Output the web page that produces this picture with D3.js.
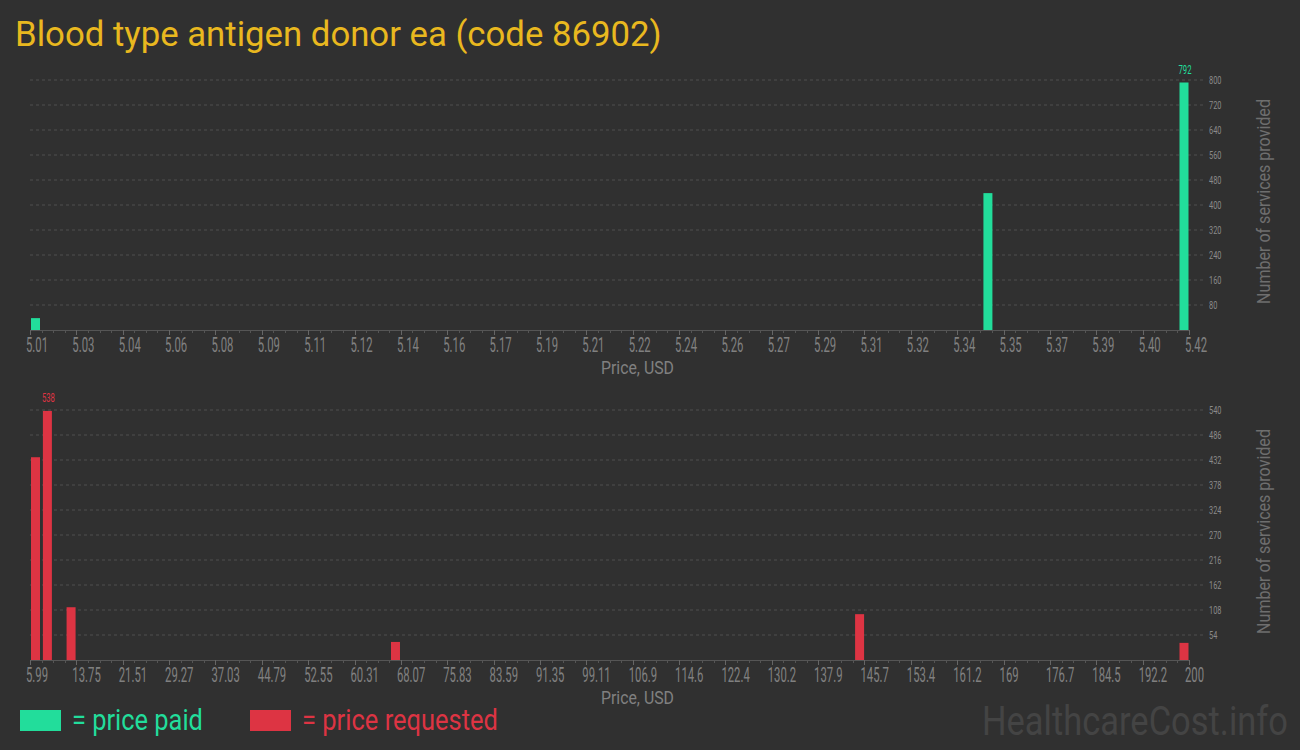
<!DOCTYPE html>
<html><head><meta charset="utf-8">
<script src="https://cdn.jsdelivr.net/npm/d3@7"></script>
<style>
html,body{margin:0;padding:0;background:#303030;}
svg{display:block;}
text{font-family:Roboto,"Noto Sans",sans-serif;}
</style></head>
<body><svg id="c" width="1300" height="750"></svg>
<script>
// ---- data ----
const paidPrices = [5.01, 5.35, 5.42];
const paidCounts = [38, 438, 792];
const reqPrices = [5.99, 8.0, 12.0, 66.8, 145.2, 200];
const reqCounts = [438, 538, 114, 39, 99, 37];
const paidTickLabels = ["5.01","5.03","5.04","5.06","5.08","5.09","5.11","5.12","5.14","5.16","5.17","5.19","5.21","5.22","5.24","5.26","5.27","5.29","5.31","5.32","5.34","5.35","5.37","5.39","5.40","5.42"];
const reqTickLabels = ["5.99","13.75","21.51","29.27","37.03","44.79","52.55","60.31","68.07","75.83","83.59","91.35","99.11","106.9","114.6","122.4","130.2","137.9","145.7","153.4","161.2","169","176.7","184.5","192.2","200"];
const paidYTicks = [80,160,240,320,400,480,560,640,720,800];
const reqYTicks = [54,108,162,216,270,324,378,432,486,540];

const BG = "#303030", GREEN = "#22dd9b", RED = "#dd3443", GOLD = "#e9b81f";
const svg = d3.select("#c");
svg.append("rect").attr("width",1300).attr("height",750).attr("fill",BG);

// place text at (x,y) and squeeze horizontally to a target width
function fitText(str, x, y, size, color, width, rotate){
  const t = svg.append("text").text(str).attr("font-size",size).attr("fill",color);
  const w = t.node().getComputedTextLength();
  const sx = width / w;
  if (rotate) {
    t.attr("text-anchor","middle").attr("transform",`translate(${x},${y}) rotate(-90) scale(${sx},1)`);
  } else {
    t.attr("transform",`translate(${x},${y}) scale(${sx},1)`);
  }
  return t;
}

fitText("Blood type antigen donor ea (code 86902)", 15, 46, 36, GOLD, 647);

function panel(o){
  const g = svg.append("g");
  const xAxisScale = d3.scalePoint().domain(o.tickLabels).range([30,1189]);
  const xBar = d3.scaleLinear().domain(o.domain).range([31,1179.5]);
  const y = d3.scaleLinear().domain([0,o.yMax]).range([o.base,o.base-250]);
  // grid
  g.selectAll(".grid").data(o.yTicks).join("line")
    .attr("x1",30).attr("x2",1205).attr("y1",d=>y(d)).attr("y2",d=>y(d))
    .attr("stroke","#4e4e4e").attr("stroke-dasharray","3,3").attr("stroke-width",1);
  g.selectAll(".yl").data(o.yTicks).join("text")
    .attr("transform",d=>`translate(1209,${y(d)+4}) scale(0.64,1)`)
    .attr("font-size",11.5).attr("fill","#8a8a8a").text(d=>d);
  // bars
  const data = o.prices.map((p,i)=>({p, c:o.counts[i]}));
  g.selectAll(".bar").data(data).join("rect")
    .attr("x",d=>xBar(d.p)).attr("width",9)
    .attr("y",d=>y(d.c)).attr("height",d=>o.base-y(d.c)).attr("fill",o.color);
  const mx = d3.max(data,d=>d.c);
  const top = data.find(d=>d.c===mx);
  g.append("text").attr("transform",`translate(${xBar(top.p)+5.5},${y(top.c)-9}) scale(0.64,1)`)
    .attr("text-anchor","middle").attr("font-size",12).attr("fill",o.color).text(top.c);
  // axis line
  g.append("line").attr("x1",30).attr("x2",1189).attr("y1",o.base+0.5).attr("y2",o.base+0.5)
    .attr("stroke","#555").attr("stroke-width",1.2);
  // minor ticks
  const idx = d3.scaleLinear().domain([0,o.tickLabels.length-1]).range([30,1189]);
  const minor = d3.range(0,(o.tickLabels.length-1)*4+1).map(i=>i/4).filter(v=>v%1!==0);
  g.selectAll(".mt").data(minor).join("line")
    .attr("x1",d=>Math.round(idx(d))+0.5).attr("x2",d=>Math.round(idx(d))+0.5)
    .attr("y1",o.base).attr("y2",o.base+3).attr("stroke","#555");
  g.selectAll(".Mt").data(o.tickLabels).join("line")
    .attr("x1",d=>Math.round(xAxisScale(d))+0.5).attr("x2",d=>Math.round(xAxisScale(d))+0.5)
    .attr("y1",o.base).attr("y2",o.base+5).attr("stroke","#666");
  g.selectAll(".xl").data(o.tickLabels).join("text")
    .attr("transform",d=>`translate(${xAxisScale(d)-4},${o.base+22}) scale(0.58,1)`)
    .attr("font-size",19.5).attr("fill","#808080").text(d=>d);
  fitText("Price, USD", 601, o.base+44, 18, "#808080", 73);
  fitText("Number of services provided", 1270, o.base-128.5, 19, "#6e6e6e", 205, true);
}
panel({prices:paidPrices,counts:paidCounts,tickLabels:paidTickLabels,domain:[5.01,5.42],
  yTicks:paidYTicks,yMax:800,base:330,color:GREEN});
panel({prices:reqPrices,counts:reqCounts,tickLabels:reqTickLabels,domain:[5.99,200],
  yTicks:reqYTicks,yMax:540,base:660,color:RED});

// legend
svg.append("rect").attr("x",20).attr("y",710).attr("width",41).attr("height",21).attr("fill",GREEN);
fitText("= price paid", 72, 730, 29, GREEN, 131);
svg.append("rect").attr("x",250).attr("y",710).attr("width",41).attr("height",21).attr("fill",RED);
fitText("= price requested", 302, 730, 29, RED, 196);
// watermark
fitText("HealthcareCost.info", 982, 735, 40, "#444444", 306);
</script></body></html>
